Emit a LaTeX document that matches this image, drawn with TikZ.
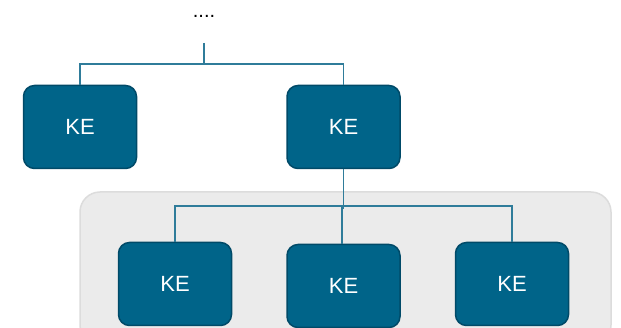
\documentclass[tikz,border=0pt]{standalone}
\usepackage{fontspec}
\setmainfont{Liberation Sans}
\definecolor{kefill}{HTML}{006489}
\definecolor{keborder}{HTML}{004A68}
\definecolor{linkc}{HTML}{2F7C9A}
\definecolor{grpfill}{HTML}{EBEBEB}
\definecolor{grpborder}{HTML}{DCDCDC}
\begin{document}
\begin{tikzpicture}[x=1pt,y=-1pt,
  kebox/.style={draw=keborder,line width=1.5pt,fill=kefill,rounded corners=11pt,
    minimum width=113pt,minimum height=83pt,inner sep=0pt,text=white,
    font=\fontsize{22}{22}\selectfont},
  link/.style={draw=linkc,line width=1.2pt}]
\useasboundingbox (0,0) rectangle (621,328);
\fill[grpfill,draw=grpborder,line width=1.5pt,rounded corners=20pt] (80,192) rectangle (611,345);
\node[font=\fontsize{20}{20}\selectfont] (dots) at (204,16) {....};
\node[kebox] (lb) at (80,127) {KE};
\node[kebox] (rb) at (343.5,127) {KE};
\node[kebox] (b1) at (175,284) {KE};
\node[kebox] (b2) at (343.5,286) {KE};
\node[kebox] (b3) at (512,284) {KE};
\coordinate (top) at (204,43);
\draw[link] (top) -- (204,64) coordinate (t);
\draw[link] (t) -| (lb.north);
\draw[link] (t) -| (rb.north);
\draw[link] (rb.south) -- (343.5,206) coordinate (j);
\draw[link] (j) -| (b1.north);
\draw[link] (j) -| (b3.north);
\draw[link] (j) -- (343.5,208) -- (342,208) -- (342,244.5);
\end{tikzpicture}
\end{document}
